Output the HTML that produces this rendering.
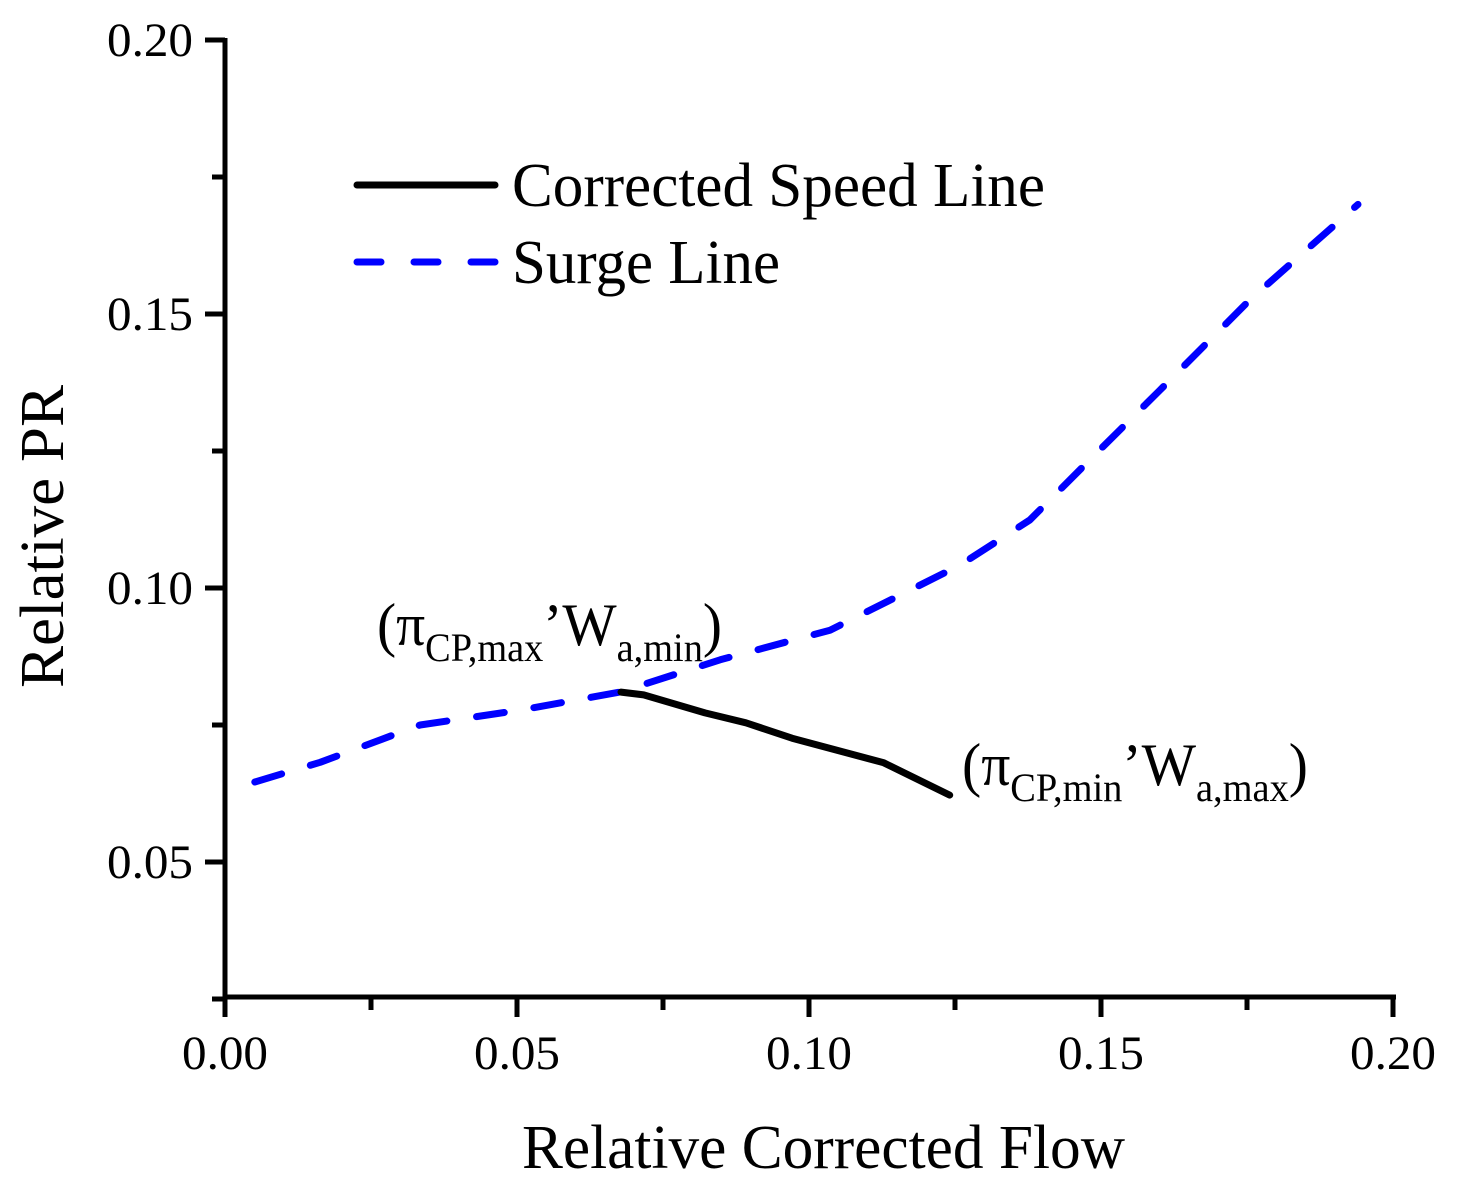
<!DOCTYPE html>
<html><head><meta charset="utf-8"><style>
html,body{margin:0;padding:0;background:#fff;}
svg text{font-family:"Liberation Serif","Times New Roman",serif;fill:#000;}
</style></head><body>
<svg id="chart" width="1460" height="1191" viewBox="0 0 1460 1191" xmlns="http://www.w3.org/2000/svg">
<g id="axes"></g>
<g id="series"></g>
<g>
  <line x1="357" y1="185" x2="495" y2="185" stroke="#000" stroke-width="7" stroke-linecap="round"/>
  <text x="512" y="206" font-size="62" textLength="533" lengthAdjust="spacingAndGlyphs">Corrected Speed Line</text>
  <line x1="357" y1="262" x2="495" y2="262" stroke="#0000ff" stroke-width="7" stroke-linecap="round" stroke-dasharray="24 33"/>
  <text x="512" y="283" font-size="62" textLength="268" lengthAdjust="spacingAndGlyphs">Surge Line</text>
</g>
<text x="377" y="645" font-size="60" textLength="345" lengthAdjust="spacingAndGlyphs">(π<tspan font-size="40" dy="16">CP,max</tspan><tspan dy="-16">’W</tspan><tspan font-size="40" dy="16">a,min</tspan><tspan dy="-16">)</tspan></text>
<text x="962" y="785" font-size="60" textLength="346" lengthAdjust="spacingAndGlyphs">(π<tspan font-size="40" dy="16">CP,min</tspan><tspan dy="-16">’W</tspan><tspan font-size="40" dy="16">a,max</tspan><tspan dy="-16">)</tspan></text>
<text x="522" y="1168" font-size="62" textLength="603" lengthAdjust="spacingAndGlyphs">Relative Corrected Flow</text>
<text transform="translate(63,688) rotate(-90)" font-size="62" textLength="303" lengthAdjust="spacingAndGlyphs">Relative PR</text>
</svg>
<script>
const xTicks = [0.00, 0.05, 0.10, 0.15, 0.20];
const xTickLabels = ["0.00", "0.05", "0.10", "0.15", "0.20"];
const yTicks = [0.05, 0.10, 0.15, 0.20];
const yTickLabels = ["0.05", "0.10", "0.15", "0.20"];
const speedX = [0.0678, 0.0717, 0.0822, 0.0892, 0.0971, 0.1128, 0.1241];
const speedY = [0.0810, 0.0805, 0.0772, 0.0754, 0.0726, 0.0681, 0.0622];
const surgeX = [0.0051, 0.0163, 0.0334, 0.0505, 0.0676, 0.0848, 0.1036, 0.1156, 0.1259, 0.1378, 0.1498, 0.1600, 0.1755, 0.1940];
const surgeY = [0.0646, 0.0682, 0.0750, 0.0777, 0.0810, 0.0869, 0.0923, 0.0987, 0.1042, 0.1124, 0.1252, 0.1360, 0.1526, 0.1700];

const X0 = 225, X1 = 1393, Y0 = 997;
const xMin = 0, xMax = 0.20, yMin = 0.025, yMax = 0.20;
function sx(v){ return X0 + (v - xMin) / (xMax - xMin) * (X1 - X0); }
function sy(v){ return 40 + (yMax - v) / 0.05 * 274; }
const NS = "http://www.w3.org/2000/svg";
function mk(tag, attrs, parent){ const e = document.createElementNS(NS, tag); for (const k in attrs) e.setAttribute(k, attrs[k]); parent.appendChild(e); return e; }
const axes = document.getElementById('axes');
let a = mk('line', {x1: X0, y1: sy(yMin)+2, x2: X0, y2: 38, stroke:'#000','stroke-width':5}, axes);


a = mk('line', {x1: X0-2, y1: Y0, x2: 1396, y2: Y0, stroke:'#000','stroke-width':5}, axes);


xTicks.forEach((t, i) => {
  const x = sx(t);
  const l = mk('line', {x1:x, y1:Y0, x2:x, y2:Y0+20, stroke:'#000','stroke-width':5}, axes);
  
  
  const tx = mk('text', {x:x-43, y:1069, 'font-size':48, textLength:86, lengthAdjust:'spacingAndGlyphs'}, axes);
  tx.textContent = xTickLabels[i];
  
  
  if (i < xTicks.length - 1) {
    const m = sx(t + 0.025);
    const ml = mk('line', {x1:m, y1:Y0, x2:m, y2:Y0+13, stroke:'#000','stroke-width':5}, axes);
    
    
  }
});
yTicks.forEach((t, i) => {
  const y = sy(t);
  const l = mk('line', {x1:X0-20, y1:y, x2:X0, y2:y, stroke:'#000','stroke-width':5}, axes);
  
  
  const tx = mk('text', {x:107, y:y+16, 'font-size':48, textLength:86, lengthAdjust:'spacingAndGlyphs'}, axes);
  tx.textContent = yTickLabels[i];
  
  
  const m = sy(t - 0.025);
  if (t - 0.025 >= yMin - 1e-9) {
    const ml = mk('line', {x1:X0-13, y1:m, x2:X0, y2:m, stroke:'#000','stroke-width':5}, axes);
    
    
  }
});
const series = document.getElementById('series');
function pts(xs, ys){ return xs.map((v, i) => sx(v).toFixed(1) + ',' + sy(ys[i]).toFixed(1)).join(' '); }
const surge = mk('polyline', {points: pts(surgeX, surgeY), fill:'none', stroke:'#0000ff', 'stroke-width':7, 'stroke-linecap':'round', 'stroke-linejoin':'round', 'stroke-dasharray':'28 30'}, series);


const speed = mk('polyline', {points: pts(speedX, speedY), fill:'none', stroke:'#000', 'stroke-width':7, 'stroke-linecap':'round', 'stroke-linejoin':'round'}, series);


</script>
</body></html>
